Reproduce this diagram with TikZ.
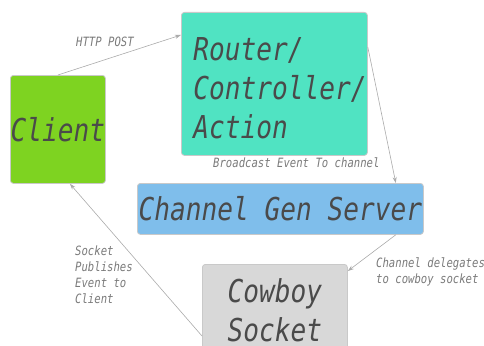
\documentclass[tikz,border=0pt]{standalone}
\usepackage{fontspec}
\usetikzlibrary{arrows.meta}
\newfontfamily\diafont{DejaVu Sans Mono Oblique}[FakeStretch=0.83]
\definecolor{FlowText}{HTML}{4A4A4A}
\definecolor{FlowLine}{HTML}{ABABAB}
\definecolor{FlowBorder}{HTML}{C9C9C9}
\definecolor{FlowClient}{HTML}{7ED321}
\definecolor{FlowRouter}{HTML}{50E3C2}
\definecolor{FlowChannel}{HTML}{7FBEEB}
\definecolor{FlowSocket}{HTML}{D8D8D8}

\begin{document}
\begin{tikzpicture}[x=1pt,y=-1pt,
  box/.style={draw=FlowBorder,line width=0.8pt,rounded corners=3pt,
    text=FlowText,inner sep=0pt,anchor=north west,
    font=\diafont\fontsize{31.5}{39}\selectfont},
  note/.style={text=FlowLine!50!FlowText,inner sep=0pt,align=left,
    font=\diafont\fontsize{12.8}{16}\selectfont},
  flow/.style={draw=FlowLine,line width=0.6pt,-{Stealth[length=6pt,width=4pt]}}]
  \useasboundingbox (0,0) rectangle (484,345);
  \clip (0,0) rectangle (484,345);

  \node[box,fill=FlowClient,minimum width=95pt,minimum height=108pt]
        (client) at (10,75) {Client};
  \node[box,fill=FlowRouter,minimum width=186pt,minimum height=143pt,
        align=left,text width=162pt,text height=31pt]
        (router) at (181,12) {Router/\\Controller/\\Action};
  \node[box,fill=FlowChannel,minimum width=286pt,minimum height=51pt]
        (channel) at (137,183) {Channel Gen Server};
  \node[box,fill=FlowSocket,minimum width=145pt,minimum height=91pt,align=center]
        (cowboy) at (202,264) {Cowboy\\Socket};

  \draw[flow] (client.north) -- ([yshift=-23pt]router.north west);
  \draw[flow] ([yshift=-35pt]router.north east) -- ([xshift=-28pt]channel.north east);
  \draw[flow] ([xshift=-28pt]channel.south east) -- ([yshift=-7pt]cowboy.north east);
  \draw[flow] ([yshift=-72pt]cowboy.north west) -- ([xshift=12pt]client.south);

  \node[note,anchor=base west] (post) at (76,47) {HTTP POST};
  \node[note,anchor=base west] (broadcast) at (213,167) {Broadcast Event To channel};
  \node[note,anchor=north west] (delegate) at (376,257.5) {Channel delegates\\to cowboy socket};
  \node[note,anchor=north west] (publish) at (75,245.5) {Socket\\Publishes\\Event to\\Client};
\end{tikzpicture}
\end{document}
